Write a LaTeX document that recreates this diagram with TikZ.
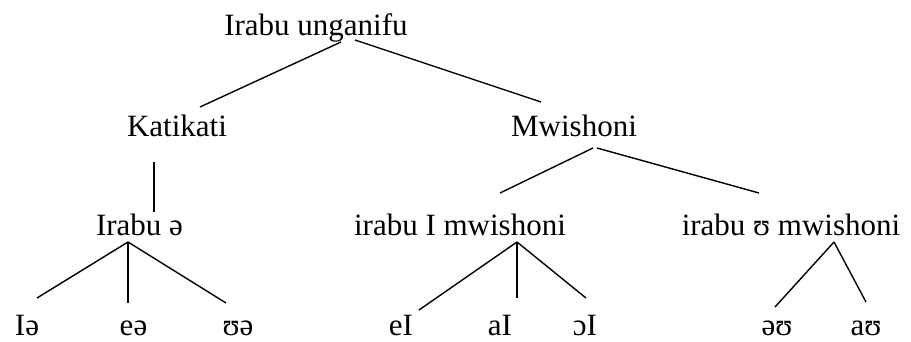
\documentclass[tikz,border=0pt]{standalone}
\usepackage{fontspec}
\setmainfont{Liberation Serif}
\tikzset{
  lbl/.style={anchor=base, inner sep=0pt, font=\fontsize{31}{36}\selectfont},
  edge/.style={line width=1.4pt, line cap=butt}
}
\begin{document}
\begin{tikzpicture}[x=1pt, y=-1pt]
\useasboundingbox (0,0) rectangle (911,341);
% tree labels, placed by baseline
\node[lbl] (root) at (316,35)  {Irabu unganifu};
\node[lbl] (kati) at (177,136) {Katikati};
\node[lbl] (mwi)  at (574,136) {Mwishoni};
\node[lbl] (ia)   at (139.5,235) {Irabu ə};
\node[lbl] (ii)   at (460,235) {irabu I mwishoni};
\node[lbl] (iu)   at (791,235) {irabu ʊ mwishoni};
\node[lbl] (l1) at (27,335)    {Iə};
\node[lbl] (l2) at (133.5,335) {eə};
\node[lbl] (l3) at (238,335)   {ʊə};
\node[lbl] (l4) at (401,335)   {eI};
\node[lbl] (l5) at (500,335)   {aI};
\node[lbl] (l6) at (585,335)   {ɔI};
\node[lbl] (l7) at (777,335)   {əʊ};
\node[lbl] (l8) at (866,335)   {aʊ};
% branches
\draw[edge] ([shift={(25,7)}]root.base) -- ([shift={(23,-29)}]kati.base);
\draw[edge] ([shift={(39,5)}]root.base) -- ([shift={(-33,-34)}]mwi.base);
\draw[edge] ([shift={(-23,26)}]kati.base) -- ([shift={(14.5,-23)}]ia.base);
\draw[edge] ([shift={(19,12)}]mwi.base) -- ([shift={(40,-42)}]ii.base);
\draw[edge] ([shift={(23,12)}]mwi.base) -- ([shift={(-32,-42)}]iu.base);
\draw[edge] ([shift={(-11.5,7)}]ia.base) -- ([shift={(10,-37)}]l1.base);
\draw[edge] ([shift={(-11.5,7)}]ia.base) -- ([shift={(-5.5,-32)}]l2.base);
\draw[edge] ([shift={(-11.5,7)}]ia.base) -- ([shift={(-12,-32)}]l3.base);
\draw[edge] ([shift={(57,7)}]ii.base) -- ([shift={(18,-25)}]l4.base);
\draw[edge] ([shift={(57,7)}]ii.base) -- ([shift={(17,-37)}]l5.base);
\draw[edge] ([shift={(57,7)}]ii.base) -- ([shift={(1,-37)}]l6.base);
\draw[edge] ([shift={(43,7)}]iu.base) -- ([shift={(-2,-28)}]l7.base);
\draw[edge] ([shift={(43,7)}]iu.base) -- ([shift={(0,-33)}]l8.base);
\end{tikzpicture}
\end{document}
